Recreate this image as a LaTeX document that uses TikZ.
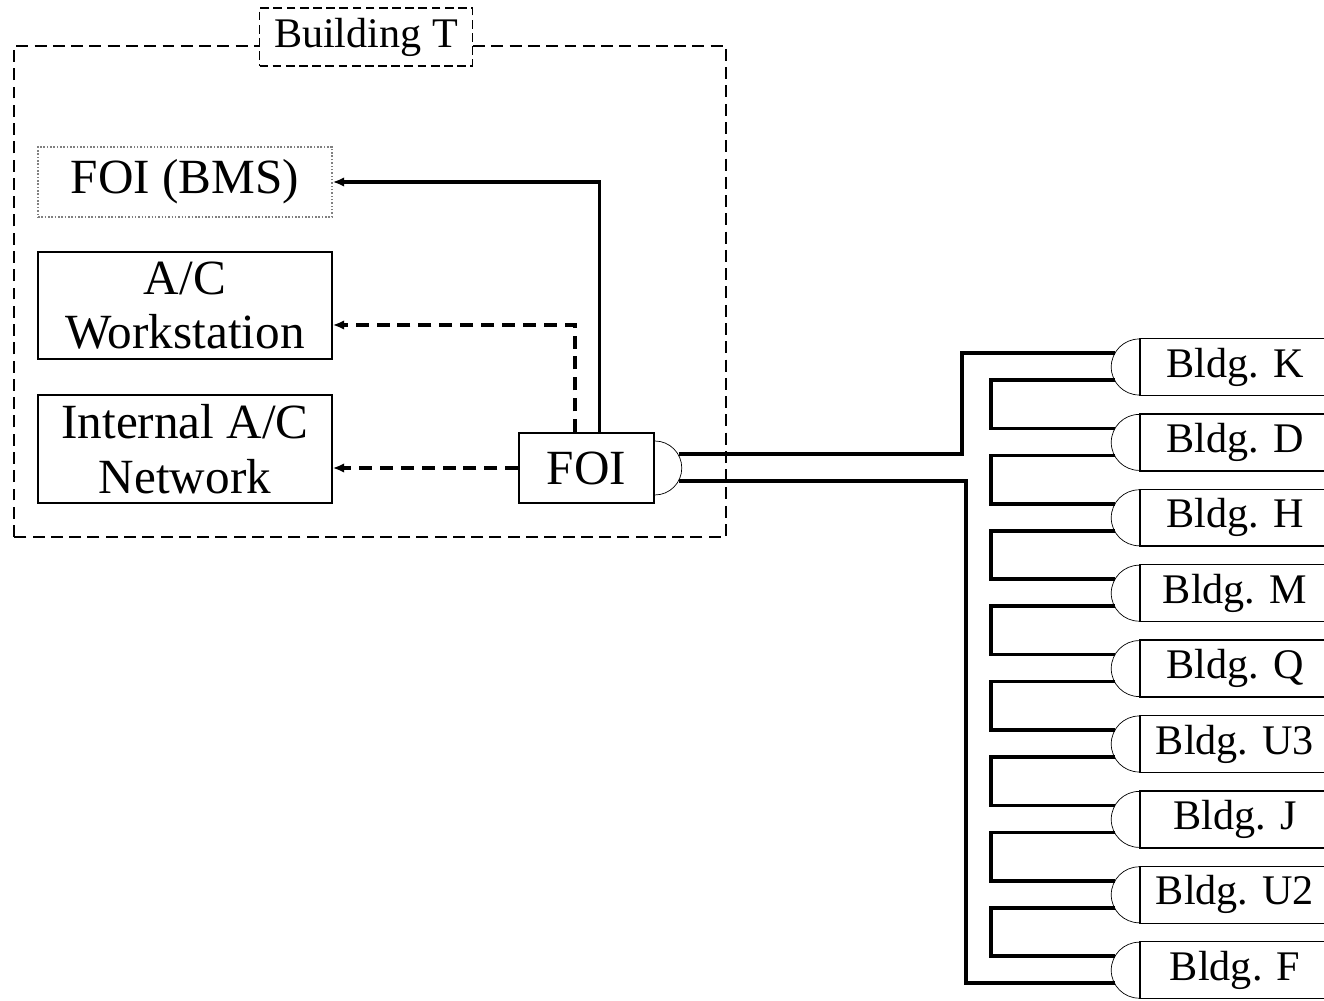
\documentclass[tikz,border=0pt]{standalone}
\usepackage{fontspec}
\setmainfont{Liberation Serif}
\usetikzlibrary{arrows.meta}
\newcommand{\bldg}[3]{\node[bldgbox] (#1) at (1235,#2) {#3};
 	\draw[thin] (#1.west) ++(0,28) arc (90:270:28);
 	\coordinate (#1-a) at ([shift={(-24,14)}]#1.west);
 	\coordinate (#1-b) at ([shift={(-24,-13)}]#1.west)}

\begin{document}
\begin{tikzpicture}[x=0.02cm,y=0.02cm,
	box/.style={draw,line width=0.9pt,inner sep=0pt,align=center,font=\fontsize{28}{31}\selectfont},
	bldgbox/.style={draw,line width=0.9pt,inner sep=0pt,minimum width=3.8cm,minimum height=1.14cm,font=\fontsize{24}{26}\selectfont},
	fiber/.style={line width=2pt},
	dasharr/.style={line width=2pt,dash pattern=on 7.4pt off 4.5pt,-{Latex[length=6.5pt,width=5.5pt]}}]
	\useasboundingbox (0,0) rectangle (1324,1000);
		\draw[line width=0.7pt,dash pattern=on 6.8pt off 3.6pt] (14,463) rectangle (726,954);
		\node[draw,fill=white,line width=0.7pt,dash pattern=on 5pt off 2.5pt,inner sep=0pt,minimum width=4.26cm,minimum height=1.16cm,font=\fontsize{24}{26}\selectfont] (bt) at (366,963) {Building T};
		\node[box,draw=gray,densely dotted,minimum width=5.88cm,minimum height=1.4cm] (bms) at (185,818) {FOI (BMS)};
		\node[box,minimum width=5.88cm,minimum height=2.14cm] (ws) at (185,694.5) {A/C\\Workstation};
		\node[box,minimum width=5.88cm,minimum height=2.16cm] (net) at (185,551) {Internal A/C\\Network};
		\node[box,minimum width=2.7cm,minimum height=1.4cm] (foi) at (586.5,532) {FOI};
			\draw[thin] (foi.east) ++(0,27) arc (90:-90:27);
			\coordinate (foi-a) at ([shift={(24,14)}]foi.east);
			\coordinate (foi-b) at ([shift={(24,-13)}]foi.east);
		\draw[line width=2pt,-{Latex[length=6.5pt,width=5.5pt]}] ([xshift=0.26cm]foi.north) |- (bms.east);
		\draw[dasharr] ([xshift=-0.23cm]foi.north) |- ([yshift=-0.39cm]ws.east);
		\draw[dasharr] (foi.west) -- (foi.west -| net.east);
			\foreach \n/\t [count=\i] in {K/K,D/D,H/H,M/M,Q/Q,U3/U3,J/J,U2/U2,F/F}{
				\pgfmathsetmacro{\yy}{633-75.4*(\i-1)}
				\bldg{b\i}{\yy}{Bldg. \t};
			}
		\coordinate (tapa) at (962,0);
		\coordinate (tapb) at (966,0);
		\coordinate (hop) at (991,0);
		\draw[fiber] (foi-a) -- (foi-a -| tapa) |- (b1-a);
		\draw[fiber] (foi-b) -- (foi-b -| tapb) |- (b9-b);
			\foreach \i [count=\j from 2] in {1,...,8}{
				\draw[fiber] (b\i-b) -- (b\i-b -| hop) |- (b\j-a);
			}
\end{tikzpicture}
\end{document}
